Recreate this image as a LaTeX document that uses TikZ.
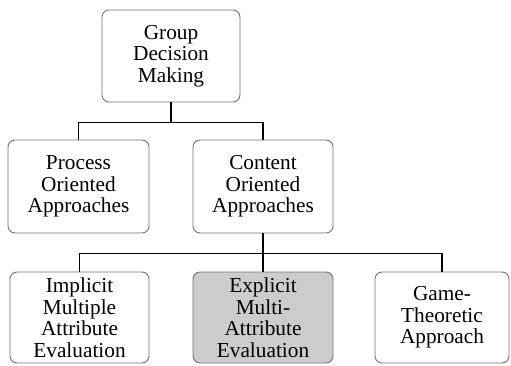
\documentclass[tikz,border=0pt]{standalone}
\usepackage{fontspec}
\setmainfont{Liberation Serif}
\begin{document}
\begin{tikzpicture}[x=1pt,y=-1pt,
  box/.style={draw=black!55, line width=0.9pt, rounded corners=7pt, fill=white,
    align=center, inner sep=0pt, font=\fontsize{21.3}{21.5}\selectfont},
  link/.style={draw=black, line width=1.3pt}]
\useasboundingbox (0,0) rectangle (511,365);
\node[box, minimum width=138pt, minimum height=92pt] (top) at (171,56) {Group\\Decision\\Making};
\node[box, minimum width=141pt, minimum height=93pt] (proc) at (78.5,186.5) {Process\\Oriented\\Approaches};
\node[box, minimum width=140pt, minimum height=93pt] (cont) at (263,186.5) {Content\\Oriented\\Approaches};
\node[box, minimum width=139pt, minimum height=91pt] (impl) at (79.5,317.5) {Implicit\\Multiple\\Attribute\\Evaluation};
\node[box, minimum width=140pt, minimum height=91pt, fill=black!20] (expl) at (263,317.5) {Explicit\\Multi-\\Attribute\\Evaluation};
\node[box, minimum width=134pt, minimum height=91pt] (game) at (442,317.5) {Game-\\Theoretic\\Approach};
\coordinate (j1) at ([yshift=-20pt]top.south);
\coordinate (j2) at ([yshift=-20pt]cont.south);
\draw[link] (top.south) -- (j1) -| (proc.north);
\draw[link] (j1) -| (cont.north);
\draw[link] (cont.south) -- (j2) -| (impl.north);
\draw[link] (j2) -- (expl.north);
\draw[link] (j2) -| (game.north);
\end{tikzpicture}
\end{document}
